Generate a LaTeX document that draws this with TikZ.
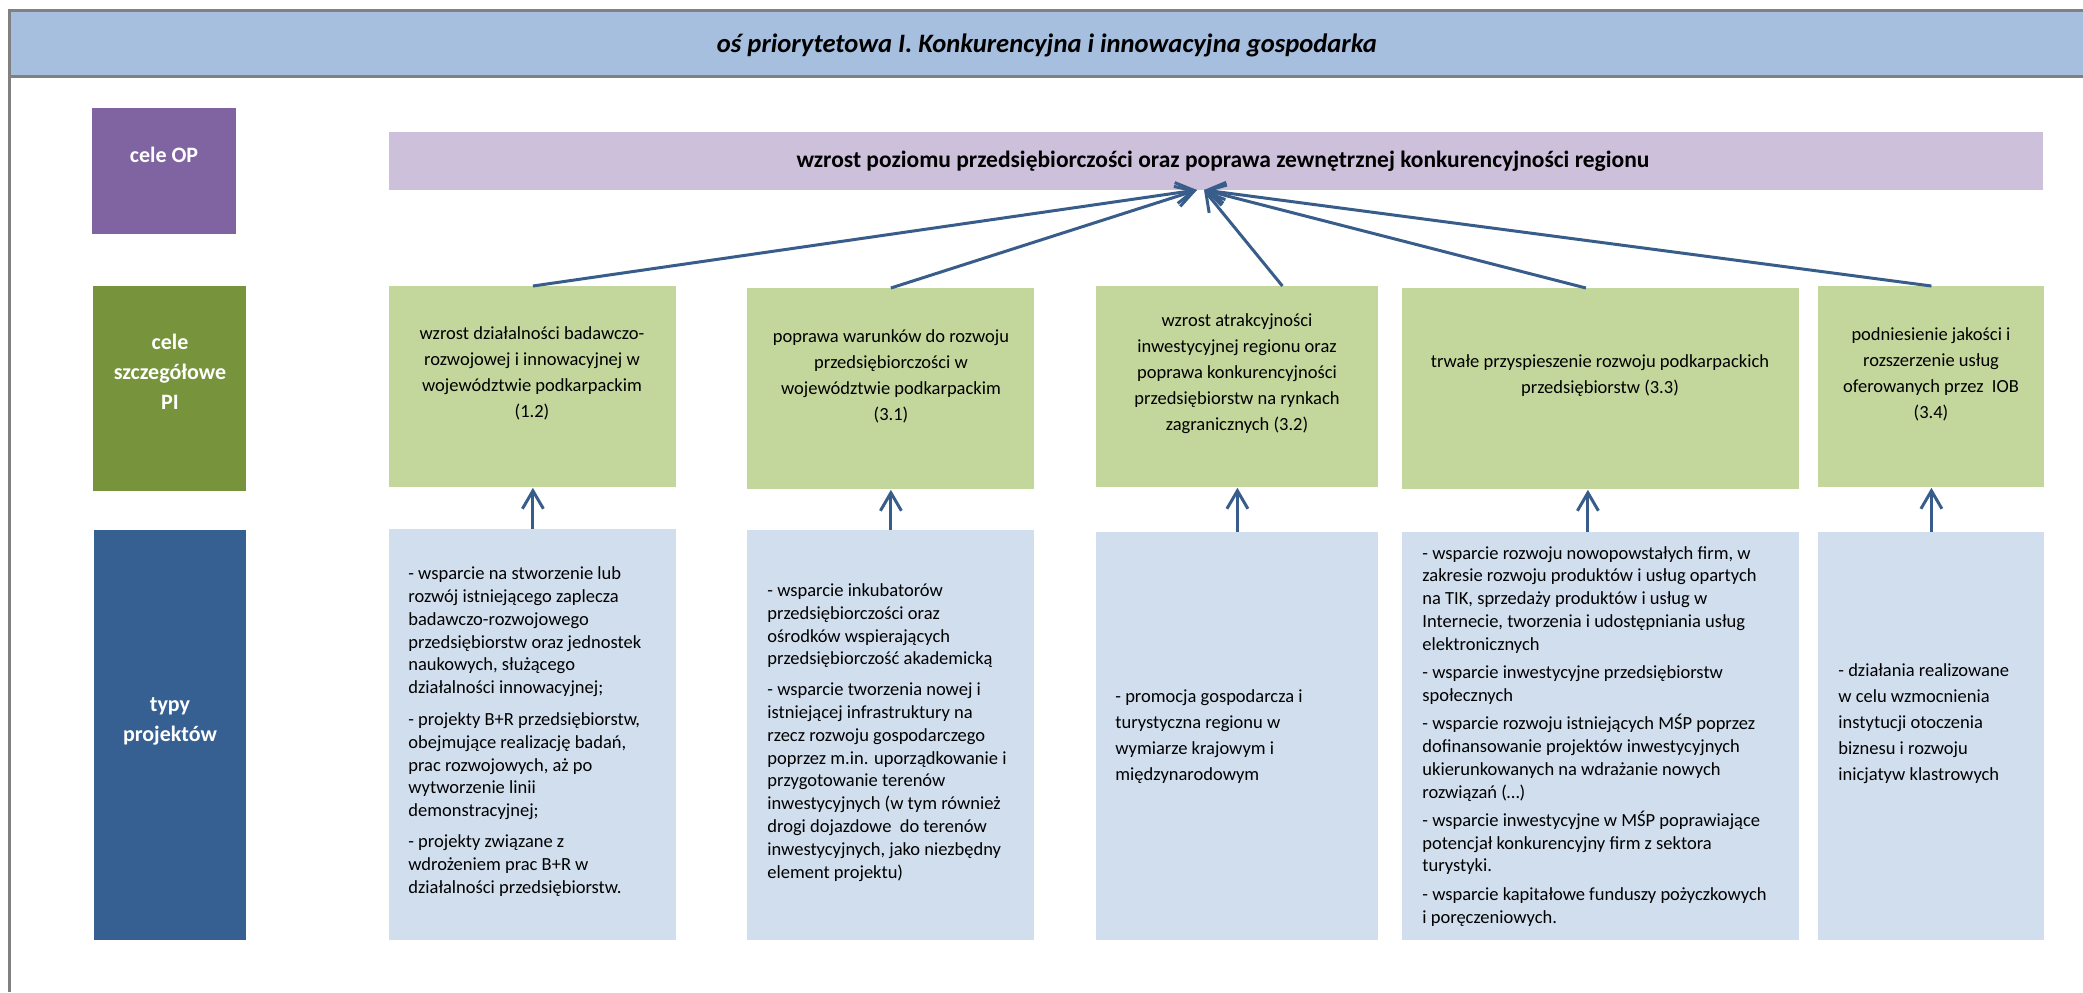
\documentclass[tikz,border=0pt]{standalone}
\usepackage{fontspec}
\setmainfont{Carlito}
\usetikzlibrary{arrows.meta}
\definecolor{hdr}{RGB}{166,191,222}
\definecolor{frm}{RGB}{128,128,128}
\definecolor{opc}{RGB}{128,100,162}
\definecolor{opl}{RGB}{204,192,218}
\definecolor{grd}{RGB}{119,147,60}
\definecolor{grl}{RGB}{195,214,155}
\definecolor{bld}{RGB}{54,96,146}
\definecolor{bll}{RGB}{208,222,238}
\definecolor{arc}{RGB}{56,93,138}
\newcommand\pxu{0.5pt}
\begin{document}
\begin{tikzpicture}[x=0.5pt,y=-0.5pt,
  box/.style={draw=none, inner sep=0pt, anchor=north west},
  lbl/.style={text=white, inner sep=0pt, font=\fontsize{11}{14.85}\selectfont\bfseries, align=center, anchor=base},
  gtxt/.style={inner sep=0pt, font=\fontsize{9.25}{13}\selectfont, align=center, anchor=base},
  btxt/.style={inner sep=0pt, font=\fontsize{9.25}{11.4}\selectfont, align=left, anchor=base west},
  bwide/.style={inner sep=0pt, font=\fontsize{9.25}{13}\selectfont, align=left, anchor=base west},
  arr/.style={draw=arc, line width=1.5pt, -{Straight Barb[length=9pt,width=10.5pt]}}]
\useasboundingbox (0,0) rectangle (2083,992);
% header
\node[box, fill=hdr, minimum width=2080*\pxu, minimum height=66*\pxu] (hdr) at (10,10) {};
\draw[frm, line width=1.5pt] (9,992) -- (9,10) -- (2083,10);
\draw[frm, line width=1.5pt] (9,76) -- (2083,76);
\node[inner sep=0pt, anchor=base, font=\fontsize{13.3}{15}\selectfont\bfseries\itshape] (ht) at (1047,52) {oś priorytetowa I. Konkurencyjna i innowacyjna gospodarka};
% left labels
\node[box, fill=opc, minimum width=144*\pxu, minimum height=126*\pxu] (op) at (92,108) {};
\node[lbl] (opt) at (164,162) {cele OP};
\node[box, fill=grd, minimum width=153*\pxu, minimum height=205*\pxu] (sz) at (93,286) {};
\node[lbl] (szt) at (170,409) {cele\\szczegółowe\\PI};
\node[box, fill=bld, minimum width=152*\pxu, minimum height=410*\pxu] (tp) at (94,530) {};
\node[lbl] (tpt) at (170,741) {typy\\projektów};
% goal band
\node[box, fill=opl, minimum width=1654*\pxu, minimum height=58*\pxu] (goal) at (389,132) {};
\node[inner sep=0pt, anchor=base, font=\fontsize{11.75}{14}\selectfont\bfseries] (goalt) at (1223,167) {wzrost poziomu przedsiębiorczości oraz poprawa zewnętrznej konkurencyjności regionu};
% green boxes
\node[box, fill=grl, minimum width=287*\pxu, minimum height=201*\pxu] (g1) at (389,286) {};
\node[box, fill=grl, minimum width=287*\pxu, minimum height=201*\pxu] (g2) at (747,288) {};
\node[box, fill=grl, minimum width=282*\pxu, minimum height=201*\pxu] (g3) at (1096,286) {};
\node[box, fill=grl, minimum width=397*\pxu, minimum height=201*\pxu] (g4) at (1402,288) {};
\node[box, fill=grl, minimum width=226*\pxu, minimum height=201*\pxu] (g5) at (1818,286) {};
\node[gtxt] (g1t) at (532,417) {wzrost działalności badawczo-\\rozwojowej i innowacyjnej w\\województwie podkarpackim\\(1.2)};
\node[gtxt] (g2t) at (891,420) {poprawa warunków do rozwoju\\przedsiębiorczości w\\województwie podkarpackim\\(3.1)};
\node[gtxt] (g3t) at (1237,430) {wzrost atrakcyjności\\inwestycyjnej regionu oraz\\poprawa konkurencyjności\\przedsiębiorstw na rynkach\\zagranicznych (3.2)};
\node[gtxt] (g4t) at (1600,393) {trwałe przyspieszenie rozwoju podkarpackich\\przedsiębiorstw (3.3)};
\node[gtxt] (g5t) at (1931,418) {podniesienie jakości i\\rozszerzenie usług\\oferowanych przez\ \ IOB\\(3.4)};
% blue boxes
\node[box, fill=bll, minimum width=287*\pxu, minimum height=411*\pxu] (b1) at (389,529) {};
\node[box, fill=bll, minimum width=287*\pxu, minimum height=410*\pxu] (b2) at (747,530) {};
\node[box, fill=bll, minimum width=282*\pxu, minimum height=408*\pxu] (b3) at (1096,532) {};
\node[box, fill=bll, minimum width=397*\pxu, minimum height=408*\pxu] (b4) at (1402,532) {};
\node[box, fill=bll, minimum width=226*\pxu, minimum height=408*\pxu] (b5) at (1818,532) {};
\node[btxt] (b1t) at (408,893) {- wsparcie na stworzenie lub\\rozwój istniejącego zaplecza\\badawczo-rozwojowego\\przedsiębiorstw oraz jednostek\\naukowych, służącego\\działalności innowacyjnej;\\[4.5pt]
- projekty B+R przedsiębiorstw,\\obejmujące realizację badań,\\prac rozwojowych, aż po\\wytworzenie linii\\demonstracyjnej;\\[4pt]
- projekty związane z\\wdrożeniem prac B+R w\\działalności przedsiębiorstw.};
\node[btxt] (b2t) at (767,878) {- wsparcie inkubatorów\\przedsiębiorczości oraz\\ośrodków wspierających\\przedsiębiorczość akademicką\\[4pt]
- wsparcie tworzenia nowej i\\istniejącej infrastruktury na\\rzecz rozwoju gospodarczego\\poprzez m.in. uporządkowanie i\\przygotowanie terenów\\inwestycyjnych (w tym również\\drogi dojazdowe\ \ do terenów\\inwestycyjnych, jako niezbędny\\element projektu)};
\node[bwide] (b3t) at (1115,780) {- promocja gospodarcza i\\turystyczna regionu w\\wymiarze krajowym i\\międzynarodowym};
\node[btxt] (b4t) at (1422,923) {- wsparcie rozwoju nowopowstałych firm, w\\zakresie rozwoju produktów i usług opartych\\na TIK, sprzedaży produktów i usług w\\Internecie, tworzenia i udostępniania usług\\elektronicznych\\[2.75pt]
- wsparcie inwestycyjne przedsiębiorstw\\społecznych\\[2.75pt]
- wsparcie rozwoju istniejących MŚP poprzez\\dofinansowanie projektów inwestycyjnych\\ukierunkowanych na wdrażanie nowych\\rozwiązań (…)\\[2.75pt]
- wsparcie inwestycyjne w MŚP poprawiające\\potencjał konkurencyjny firm z sektora\\turystyki.\\[2.75pt]
- wsparcie kapitałowe funduszy pożyczkowych\\i poręczeniowych.};
\node[bwide] (b5t) at (1838,780) {- działania realizowane\\w celu wzmocnienia\\instytucji otoczenia\\biznesu i rozwoju\\inicjatyw klastrowych};
% arrows to goal
\coordinate (cL) at (1197,190);
\coordinate (cR) at (1204,190);
\draw[arr] (g1.north) -- (cL);
\draw[arr] (g2.north) -- (cL);
\draw[arr] ([xshift=45*\pxu]g3.north) -- (cR);
\draw[arr] ([xshift=-15*\pxu]g4.north) -- (cR);
\draw[arr] (g5.north) -- (cR);
% arrows from project types
\draw[arr] (b1.north) -- (g1.south);
\draw[arr] (b2.north) -- (g2.south);
\draw[arr] (b3.north) -- (g3.south);
\draw[arr] ([xshift=-13*\pxu]b4.north) -- ([xshift=-13*\pxu]g4.south);
\draw[arr] (b5.north) -- (g5.south);
\end{tikzpicture}
\end{document}
